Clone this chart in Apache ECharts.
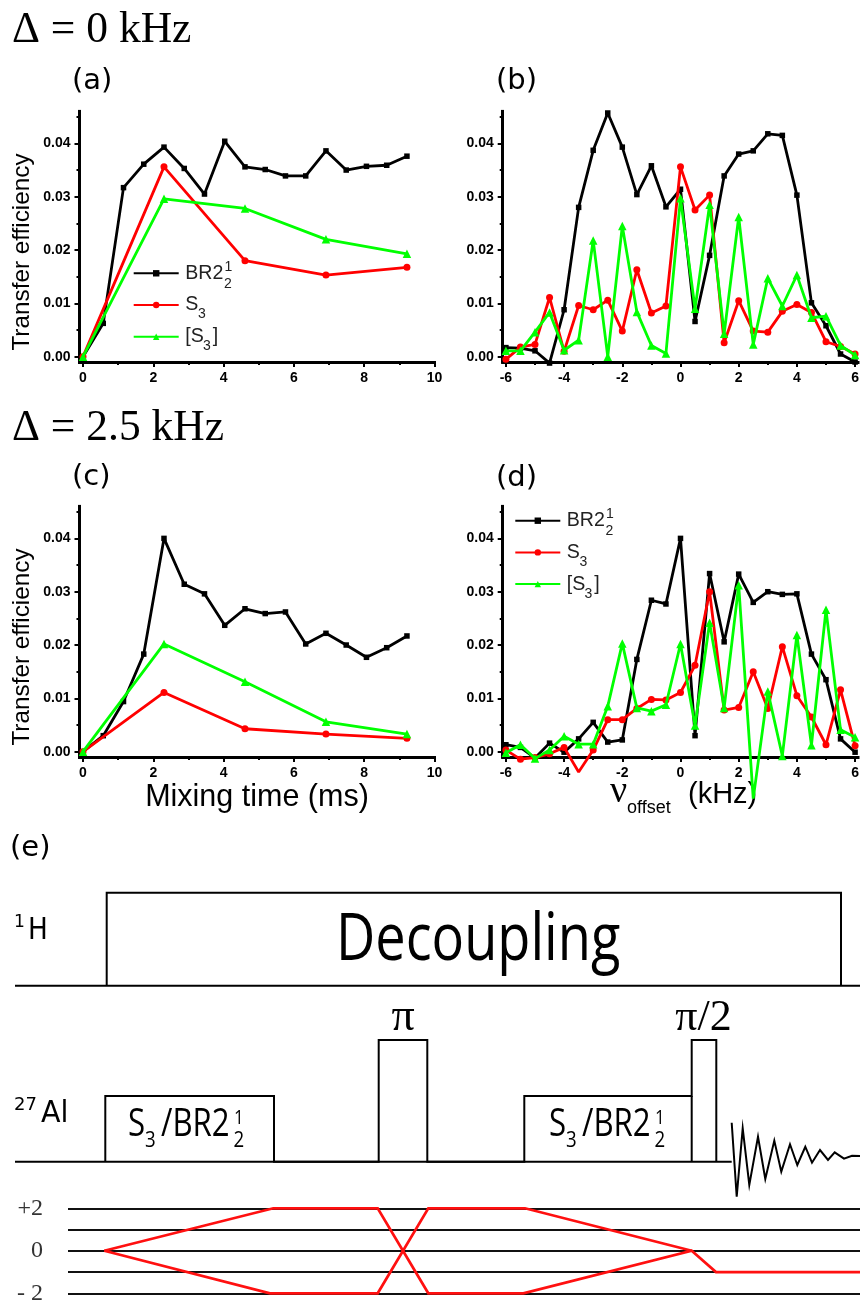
<!DOCTYPE html>
<html><head><meta charset="utf-8">
<style>html,body{margin:0;padding:0;background:#fff}#c{width:860px;height:1302px}</style>
<script src="https://cdn.jsdelivr.net/npm/echarts@6/dist/echarts.min.js"></script>
</head><body><div id="c"></div>
<script>
// ---- data ----
const timeFine = [0,0.576,1.152,1.728,2.304,2.88,3.456,4.032,4.608,5.184,5.76,6.336,6.912,7.488,8.064,8.64,9.216];
const timeCoarse = [0,2.304,4.608,6.912,9.216];
const offsets = [-6,-5.5,-5,-4.5,-4,-3.5,-3,-2.5,-2,-1.5,-1,-0.5,0,0.5,1,1.5,2,2.5,3,3.5,4,4.5,5,5.5,6];

const aBR = [0,0.00625,0.0317,0.0361,0.0393,0.0353,0.0305,0.0404,0.0356,0.0351,0.0339,0.0339,0.0386,0.035,0.0357,0.0359,0.0376];
const aS3 = [0,0.0356,0.018,0.0153,0.01675];
const aBS = [0,0.0296,0.0278,0.022,0.0193];

const bBR = [0.0017,0.0016,0.0011,-0.0012,0.0088,0.028,0.0387,0.0457,0.0393,0.0304,0.0358,0.0281,0.0314,0.0066,0.019,0.0339,0.038,0.0386,0.0418,0.0415,0.0303,0.0101,0.0058,0.0005,-0.001];
const bS3 = [-0.0005,0.0018,0.0023,0.0111,0.001,0.0096,0.0088,0.0106,0.0048,0.0163,0.0082,0.0095,0.0356,0.0275,0.0303,0.0026,0.0105,0.0048,0.0046,0.0085,0.0098,0.0083,0.0028,0.0019,0.0005];
const bBS = [0.0011,0.0011,0.0046,0.0083,0.0012,0.0031,0.0218,0,0.0245,0.0084,0.0021,0.0006,0.0297,0.009,0.0285,0.0043,0.0262,0.0023,0.0147,0.0095,0.0153,0.0073,0.0076,0.0021,0.0003];

const cBR = [0,0.003,0.0094,0.0183,0.04,0.0314,0.0296,0.0237,0.0268,0.0259,0.0262,0.0202,0.0222,0.02,0.0177,0.0195,0.0217];
const cS3 = [0,0.0111,0.0043,0.0033,0.0025];
const cBS = [0,0.0202,0.0131,0.0056,0.0033];

const dBR = [0.0013,0.0008,-0.0012,0.0016,-0.0001,0.0024,0.0055,0.0018,0.0022,0.0173,0.0284,0.0277,0.04,0.003,0.0334,0.0206,0.0333,0.028,0.03,0.0295,0.0296,0.0183,0.0135,0.0024,-0.0001];
const dS3 = [0.0003,-0.0014,-0.0011,-0.0004,0.0008,-0.0038,0.0003,0.006,0.006,0.0081,0.0098,0.0097,0.0111,0.0162,0.03,0.0078,0.0083,0.015,0.0081,0.0197,0.0105,0.0065,0.0013,0.0116,0.0011];
const dBS = [-0.0002,0.0013,-0.0013,0.0003,0.0029,0.0014,0.0014,0.0085,0.0203,0.0082,0.0076,0.0088,0.0202,0.0049,0.0242,0.0082,0.0312,-0.0088,0.0113,-0.0008,0.0219,0.0012,0.0266,0.0041,0.0027];

const yMajor = [0,0.01,0.02,0.03,0.04];
const yMinor = [0.005,0.015,0.025,0.035,0.045];
const timeMajor = [0,2,4,6,8,10];
const timeMinor = [1,3,5,7,9];
const offsetMajor = [-6,-4,-2,0,2,4,6];
const offsetMinor = [-5,-3,-1,1,3,5];
const seriesNames = ['BR2', 'S3', '[S3]'];

// pulse sequence, in diagram time units and relative amplitude / coherence order
const hBase = [15,860];
const hTime = [106.7,106.7,841,841];
const hAmp  = [0,1,1,0];
const alBase = [15,731.7];
const zeroPair = [0,0];
const alTime = [105.3,105.3,274,274,378.7,378.7,427.3,427.3,524.3,524.3,691.7,691.7,716.3,716.3];
const alAmp  = [0,0.54,0.54,0,0,1,1,0,0,0.54,0.54,1,1,0];
const box2Edge = [691.7,691.7];
const box2Amp = [0,0.54];
const fidTime = [731.7,736.7,742.7,749.3,758,765.3,774.3,781.3,790,797.3,805.3,812,820,828,834.7,844,852,860];
const fidAmp  = [0.32,-0.288,0.274,-0.191,0.205,-0.142,0.173,-0.082,0.143,-0.027,0.123,-0.008,0.096,0.014,0.077,0.025,0.049,0.047];
const pathTimeA = [104.3,273.3,377.7,428.3,523.3,691.7,716,860];
const pathOrderA = [0,2,2,-2,-2,0,-1,-1];
const pathTimeB = [104.3,270,377.7,428.3,525,691.7];
const pathOrderB = [0,-2,-2,2,2,0];
const orderLabels = [2,0,-2];

// ---- builders ----
const zip = (a,b) => a.map((v,i)=>[v,b[i]]);
const BLACK='#000', RED='#ff0000', GREEN='#00ff00';
const styles = {
  'BR2':{color:BLACK,symbol:'rect',size:5.5},
  'S3':{color:RED,symbol:'circle',size:7},
  '[S3]':{color:GREEN,symbol:'triangle',size:8.5}
};
const grids=[], xAxes=[], yAxes=[], series=[];
const tickFont={color:'#000',fontFamily:'Liberation Sans',fontWeight:'bold',fontSize:14};

function panel(box, xRange, xMaj, xMin, lines, xName){
  const g=grids.length;
  grids.push({left:box.left,top:box.top,width:box.width,height:250.6,containLabel:false,outerBoundsMode:'none'});
  const xi=xAxes.length, yi=yAxes.length;
  xAxes.push({gridIndex:g,type:'value',min:xRange[0],max:xRange[1],position:'bottom',
    axisLine:{show:true,onZero:false,lineStyle:{color:'#000',width:3,cap:'square'}},
    axisTick:{show:true,length:5,inside:false,lineStyle:{color:'#000',width:2},customValues:xMaj},
    axisLabel:Object.assign({show:true,margin:9,hideOverlap:false,showMinLabel:true,showMaxLabel:true,customValues:xMaj,formatter:v=>String(v)},tickFont),
    splitLine:{show:false},
    ...(xName||{})});
  xAxes.push({gridIndex:g,type:'value',min:xRange[0],max:xRange[1],position:'bottom',
    axisLine:{show:false,onZero:false},
    axisTick:{show:true,length:3,lineStyle:{color:'#000',width:2},customValues:xMin},
    axisLabel:{show:false},splitLine:{show:false}});
  yAxes.push({gridIndex:g,type:'value',min:-0.001,max:0.046,position:'left',
    axisLine:{show:true,onZero:false,lineStyle:{color:'#000',width:3,cap:'square'}},
    axisTick:{show:true,length:5,lineStyle:{color:'#000',width:2},customValues:yMajor},
    axisLabel:Object.assign({show:true,margin:9,hideOverlap:false,customValues:yMajor,formatter:v=>v.toFixed(2)},tickFont),
    splitLine:{show:false}});
  yAxes.push({gridIndex:g,type:'value',min:-0.001,max:0.046,position:'left',
    axisLine:{show:false,onZero:false},
    axisTick:{show:true,length:3,lineStyle:{color:'#000',width:2},customValues:yMinor},
    axisLabel:{show:false},splitLine:{show:false}});
  lines.forEach((l,i)=>{
    const s=styles[seriesNames[i]];
    series.push({name:seriesNames[i],type:'line',xAxisIndex:xi,yAxisIndex:yi,
      data:l.map(p=> p[1]<-0.0025 ? {value:p,symbol:'none'} : p),
      clip:false,silent:true,
      symbol:s.symbol,symbolSize:s.size,showAllSymbol:true,
      lineStyle:{color:s.color,width:2.8,join:'bevel'},itemStyle:{color:s.color},
      emphasis:{disabled:true},z:3+i});
  });
}

const T_RANGE=[-0.1,10], O_RANGE=[-6.11,6.1];
const BOX={a:{left:79.5,top:111.4,width:355},b:{left:502.7,top:111.4,width:355.3},
           c:{left:79.5,top:506.4,width:355},d:{left:502.7,top:506.4,width:355.3}};

panel(BOX.a,T_RANGE,timeMajor,timeMinor,[zip(timeFine,aBR),zip(timeCoarse,aS3),zip(timeCoarse,aBS)]);
panel(BOX.b,O_RANGE,offsetMajor,offsetMinor,[zip(offsets,bBR),zip(offsets,bS3),zip(offsets,bBS)]);
panel(BOX.c,T_RANGE,timeMajor,timeMinor,[zip(timeFine,cBR),zip(timeCoarse,cS3),zip(timeCoarse,cBS)],
  {name:'Mixing time (ms)',nameLocation:'middle',nameGap:25,nameTextStyle:{color:'#000',fontFamily:'Liberation Sans',fontSize:30.5}});
panel(BOX.d,O_RANGE,offsetMajor,offsetMinor,[zip(offsets,dBR),zip(offsets,dS3),zip(offsets,dBS)]);

// pulse-sequence grids
function diagramGrid(top,height,left,xmin,xmax,ymin,ymax,yExtra){
  const g=grids.length;
  grids.push({left:left,top:top,width:860-left,height:height,outerBoundsMode:'none'});
  xAxes.push({gridIndex:g,type:'value',min:xmin,max:xmax,show:false,splitLine:{show:false}});
  yAxes.push(Object.assign({gridIndex:g,type:'value',min:ymin,max:ymax,show:false,splitLine:{show:false}},yExtra||{}));
  return [xAxes.length-1,yAxes.length-1];
}
function trace(idx,t,v,color,width,z,join){
  series.push({type:'line',xAxisIndex:idx[0],yAxisIndex:idx[1],data:zip(t,v),symbol:'none',clip:false,silent:true,
    lineStyle:{color:color,width:width,join:join||'miter'},emphasis:{disabled:true},z:z||3});
}
const hIdx=diagramGrid(892.7,93,0,0,860,0,1);
trace(hIdx,hBase,zeroPair,BLACK,2);
trace(hIdx,hTime,hAmp,BLACK,2);
const alIdx=diagramGrid(1040,158.2,0,0,860,-0.3,1);
trace(alIdx,alBase,zeroPair,BLACK,2);
trace(alIdx,alTime,alAmp,BLACK,2);
trace(alIdx,box2Edge,box2Amp,BLACK,2);
trace(alIdx,fidTime,fidAmp,BLACK,2);
const coIdx=diagramGrid(1208.3,85,68,68,860,-2,2,{
  show:true,interval:1,
  axisLine:{show:false},axisTick:{show:false},
  axisLabel:{show:true,margin:25,customValues:orderLabels,color:'#333',fontFamily:'Liberation Serif',fontSize:24,
    formatter:v=>v>0?'+'+v:(v<0?'- '+Math.abs(v):String(v))},
  splitLine:{show:true,showMinLine:true,showMaxLine:true,lineStyle:{color:'#111',width:1.8}}
});
trace(coIdx,pathTimeA,pathOrderA,'#ff1010',2.7,5);
trace(coIdx,pathTimeB,pathOrderB,'#ff1010',2.7,5);

// ---- text ----
const g=[];
function t(text,x,base,size,family,o){
  o=o||{};
  g.push({type:'text',x:x,y:base,rotation:o.rot||0,scaleX:o.sx||1,scaleY:o.sy||1,z:o.z||10,silent:true,
    style:{text:text,fill:o.fill||'#000',font:(o.w?o.w+' ':'')+size+'px "'+family+'"',textAlign:o.align||'left',textVerticalAlign:'bottom'}});
}
// 'bottom' aligned: baseline sits about 0.22em above the box bottom
const B=(b,s)=>b+0.22*s;
const SER='Liberation Serif',SAN='Liberation Sans',DJ='DejaVu Sans',OS='Open Sans';
t('Δ = 0 kHz',12,B(43,43.5),43.5,SER);
t('Δ = 2.5 kHz',12,B(441,43.5),43.5,SER);
t('(a)',72,B(90,29),29,DJ); t('(b)',496,B(90,29),29,DJ);
t('(c)',72,B(486,29),29,DJ); t('(d)',496,B(487,29),29,DJ);
t('(e)',10,B(857,29),29,DJ);
g.push({type:'text',x:22,y:252,rotation:Math.PI/2,silent:true,style:{text:'Transfer efficiency',fill:'#000',font:'24.3px "'+SAN+'"',textAlign:'center',textVerticalAlign:'middle'}});
g.push({type:'text',x:22,y:647,rotation:Math.PI/2,silent:true,style:{text:'Transfer efficiency',fill:'#000',font:'24.3px "'+SAN+'"',textAlign:'center',textVerticalAlign:'middle'}});
t('ν',610,B(803,38),38,SER,{z:1});
t('offset',627,B(813,18),18,SAN,{z:1});
t('(kHz)',688,B(803,29),29,SAN,{z:1});
// legend sub- and superscripts
const LC='#222';
[[132.7,273.3,305,336.7],[514.3,520.7,552.7,584.7]].forEach(r=>{
  t('1',r[0]+91.8,B(r[1]-2.6,14),14,SAN,{fill:LC});
  t('2',r[0]+91.3,B(r[1]+14.4,14),14,SAN,{fill:LC});
  t('3',r[0]+65.3,B(r[2]+13,14),14,SAN,{fill:LC});
  t('3',r[0]+70.3,B(r[3]+13.3,14),14,SAN,{fill:LC});
});
// diagram text
t('Decoupling',336,B(959.3,66),66,OS,{sx:0.82});
t('1',14,B(927,18),18,DJ,{sx:0.95}); t('H',28,B(939.5,31),31,DJ,{sx:0.85});
t('27',14,B(1110,18),18,DJ); t('Al',41,B(1122.7,31),31,DJ,{sx:0.92});
t('π',403,B(1031,46),46,SER,{align:'center'});
t('π/2',703.5,B(1031,44),44,SER,{align:'center'});
[0,421].forEach(dx=>{
  t('S',128+dx,B(1136,38),38,OS,{sx:0.82});
  t('3',145+dx,B(1147,22),22,OS,{sx:0.85});
  t('/BR2',161+dx,B(1136,38),38,OS,{sx:0.82});
  t('1',234+dx,B(1124,20),20,OS,{sx:0.85});
  t('2',233.5+dx,B(1147,22),22,OS,{sx:0.85});
});

// ---- legends ----
const legendText={'BR2':'{m|BR2}','S3':'{m|S}','[S3]':'{m|[S}{g| }{m|]}'};
const legendRich={m:{fontFamily:SAN,fontSize:19.6,lineHeight:20,color:LC},
                  g:{fontFamily:SAN,fontSize:19.6,lineHeight:20,width:9}};
function legend(left,top){return {show:true,orient:'vertical',left:left,top:top,padding:0,itemGap:11.7,itemWidth:45,itemHeight:8,
  selectedMode:false,align:'left',data:seriesNames,formatter:n=>legendText[n],textStyle:{rich:legendRich,padding:[0,0,0,1.5]}};}

const chart=echarts.init(document.getElementById('c'),null,{renderer:'canvas'});
chart.setOption({animation:false,backgroundColor:'#fff',grid:grids,xAxis:xAxes,yAxis:yAxes,series:series,
  legend:[legend(132.7,263.3),legend(514.3,510.7)],graphic:{elements:g}});
</script></body></html>
